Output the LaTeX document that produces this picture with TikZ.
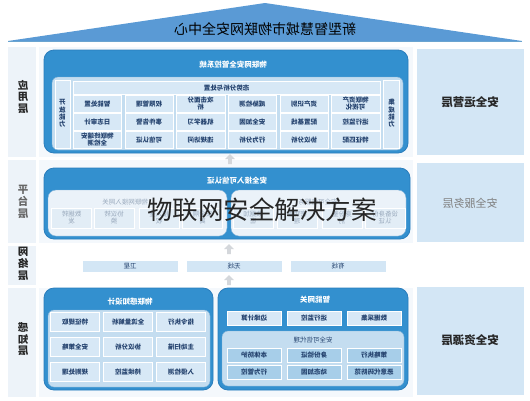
\documentclass[tikz,border=0pt]{standalone}
\usepackage{fontspec}
\usepackage{graphicx}
\newfontfamily\cjk{Noto Sans CJK SC}
\usetikzlibrary{shapes.arrows}
\definecolor{triC}{HTML}{5A9AD5}
\definecolor{boxC}{HTML}{3390CF}
\definecolor{boxB}{HTML}{2A7DBC}
\definecolor{innerC}{HTML}{C4DDF0}
\definecolor{cellC}{HTML}{D7E8F6}
\definecolor{cellT}{HTML}{24426E}
\definecolor{lpanel}{HTML}{EDF3F9}
\definecolor{mpanel}{HTML}{F4F8FC}
\definecolor{rpanel}{HTML}{D3E6F5}
\definecolor{arrC}{HTML}{D4D7DB}
\definecolor{fadeT}{HTML}{9AAABD}
\definecolor{fadeC}{HTML}{E2EDF6}
\newcommand\mir[1]{\reflectbox{#1}}
\newcommand\mtwo[2]{\reflectbox{\renewcommand{\arraystretch}{0.8}\begin{tabular}{@{}c@{}}#1\\#2\end{tabular}}}
\newcommand\mthree[3]{\reflectbox{\renewcommand{\arraystretch}{0.95}\begin{tabular}{@{}c@{}}#1\\#2\\#3\end{tabular}}}
\newcommand\mfour[4]{\reflectbox{\renewcommand{\arraystretch}{0.85}\begin{tabular}{@{}c@{}}#1\\#2\\#3\\#4\end{tabular}}}
\tikzset{
  bigbox/.style={fill=boxC, draw=boxB, line width=0.8pt, rounded corners=10pt},
  innerbox/.style={fill=innerC, draw=boxB!60, line width=0.4pt, rounded corners=6pt},
  cell/.style={draw=white, line width=0.5pt, fill=cellC, inner sep=0pt, text=cellT,
    font=\cjk\bfseries\fontsize{6.5}{7}\selectfont},
  fcell/.style={draw=white, line width=0.5pt, fill=fadeC, inner sep=0pt, text=fadeT,
    font=\cjk\fontsize{6.5}{7}\selectfont, minimum width=40pt, minimum height=20pt},
  ttl/.style={text=white, font=\cjk\bfseries\fontsize{7.5}{8}\selectfont, inner sep=0pt},
  sttl/.style={text=cellT, font=\cjk\fontsize{6.5}{7}\selectfont, inner sep=0pt},
  lab/.style={font=\cjk\bfseries\fontsize{10.5}{11}\selectfont, text=black!85, inner sep=0pt},
  rlab/.style={font=\cjk\bfseries\fontsize{11.5}{12}\selectfont, text=black!85, inner sep=0pt},
  netbar/.style={fill=rpanel, draw=white, inner sep=0pt, minimum width=96pt, minimum height=12pt,
    text=cellT, font=\cjk\fontsize{6.5}{7}\selectfont},
  uparr/.style={single arrow, shape border rotate=90, fill=arrC, draw=none,
    minimum height=10pt, minimum width=10pt, single arrow head extend=2.5pt, inner sep=1.2pt}
}
\begin{document}
\begin{tikzpicture}[x=1pt,y=-1pt]
\useasboundingbox (0,0) rectangle (530,400);
\fill[white] (0,0) rectangle (530,400);
% top triangle
\fill[triC] (8,41) -- (265,3) -- (522,41) -- cycle;
\draw[boxB!70, line width=0.5pt] (8,41) -- (522,41);
\node[font=\cjk\fontsize{14}{14}\selectfont, inner sep=0pt] (top) at (265,29) {\mir{新型智慧城市物联网安全中心}};
% layer panels
\fill[lpanel] (8,47) rectangle (36,157);
\fill[lpanel] (8,160) rectangle (36,243);
\fill[lpanel] (8,246) rectangle (36,285);
\fill[lpanel] (8,288) rectangle (36,397);
\fill[mpanel] (39,47) rectangle (413,157);
\fill[mpanel] (39,160) rectangle (413,243);
\fill[mpanel] (39,288) rectangle (413,397);
\fill[rpanel] (417,49) rectangle (524,155);
\fill[rpanel] (417,163) rectangle (524,242);
\fill[rpanel] (417,287) rectangle (524,395);
% left labels
\node[lab] (l1) at (23,98) {\mthree{应}{用}{层}};
\node[lab, text=black!60] (l2) at (23,203) {\mthree{平}{台}{层}};
\node[lab] (l3) at (23,265) {\mthree{网}{络}{层}};
\node[lab] (l4) at (23,340) {\mthree{感}{知}{层}};
% right labels
\node[rlab] (r1) at (470,102) {\mir{安全运营层}};
\node[rlab, font=\cjk\fontsize{11}{12}\selectfont, text=black!50] (r2) at (470,203) {\mir{安全服务层}};
\node[rlab] (r3) at (470,340) {\mir{安全资源层}};

% ===== application layer =====
\draw[bigbox] (44,50) rectangle (408,153);
\node[ttl] (appT) at (233,65) {\mir{物联网安全管控系统}};
\draw[innerbox] (52,77) rectangle (403,150);
\node[cell, minimum width=15pt, minimum height=68pt] (open) at (62.5,114) {\mfour{开}{放}{能}{力}};
\node[cell, minimum width=16pt, minimum height=68pt] (integ) at (391.5,114) {\mfour{集}{成}{能}{力}};
\node[cell, minimum width=307pt, minimum height=13pt] (head) at (226.5,88) {\mir{态势分析与处置}};
\foreach \c/\x in {1/97.3,2/149,3/200.7,4/252.3,5/304,6/355.7}{
  \foreach \r/\y in {1/104,2/122,3/140}{
    \coordinate (g-\c-\r) at (\x,\y);
  }
}
\tikzset{gc/.style={cell, minimum width=48.5pt, minimum height=17pt}}
\node[gc] (a11) at (g-1-1) {\mir{智能处置}};
\node[gc] (a12) at (g-1-2) {\mir{日志审计}};
\node[gc] (a13) at (g-1-3) {\mtwo{物联终端安}{全检测}};
\node[gc] (a21) at (g-2-1) {\mir{权限管理}};
\node[gc] (a22) at (g-2-2) {\mir{事件告警}};
\node[gc] (a23) at (g-2-3) {\mir{可信认证}};
\node[gc] (a31) at (g-3-1) {\mtwo{攻击面分}{析}};
\node[gc] (a32) at (g-3-2) {\mir{机器学习}};
\node[gc] (a33) at (g-3-3) {\mir{违规访问}};
\node[gc] (a41) at (g-4-1) {\mir{威胁检测}};
\node[gc] (a42) at (g-4-2) {\mir{安全加固}};
\node[gc] (a43) at (g-4-3) {\mir{行为分析}};
\node[gc] (a51) at (g-5-1) {\mir{资产识别}};
\node[gc] (a52) at (g-5-2) {\mir{配置基线}};
\node[gc] (a53) at (g-5-3) {\mir{协议分析}};
\node[gc] (a61) at (g-6-1) {\mtwo{物联资产}{可视化}};
\node[gc] (a62) at (g-6-2) {\mir{运行监控}};
\node[gc] (a63) at (g-6-3) {\mir{特征匹配}};

% arrows
\node[uparr] (ar1) at (230,160) {};
\node[uparr] (ar2) at (229,250) {};
\node[uparr] (ar3) at (229,281) {};

% ===== platform layer =====
\draw[bigbox] (44,168) rectangle (410,239);
\node[ttl] (platT) at (237,181) {\mir{安全接入可信认证}};
\draw[innerbox, fill=fadeC!70!white, rounded corners=8pt] (48,190) rectangle (227,236);
\draw[innerbox, fill=fadeC!70!white, rounded corners=8pt] (231,190) rectangle (406,236);
\node[sttl, text=fadeT] (pl) at (125,202) {\mir{物联网接入网关}};
\node[sttl, text=fadeT] (pr) at (318,202) {\mir{安全可信服务}};
\node[fcell] (p1) at (71.5,218) {\mtwo{数据转}{发}};
\node[fcell] (p2) at (114,218) {\mtwo{协议转}{换}};
\node[fcell] (p3) at (159,218) {\mtwo{接入鉴}{权}};
\node[fcell] (p4) at (202.5,218) {\mtwo{安全隔}{离}};
\node[fcell] (p5) at (253,218) {\mtwo{数据加}{密}};
\node[fcell] (p6) at (297,218) {\mtwo{密钥管}{理}};
\node[fcell] (p7) at (342,218) {\mtwo{身份鉴}{别}};
\node[fcell] (p8) at (385,218) {\mtwo{设备身份}{认证}};
% watermark
\node[font=\cjk\fontsize{25.5}{26}\selectfont, text=black!85, inner sep=0pt] (wm) at (262,210) {物联网安全解决方案};

% ===== network layer =====
\node[netbar] (sat) at (130,266) {\mir{卫星}};
\node[netbar] (wl) at (234,266) {\mir{无线}};
\node[netbar] (wd) at (338,266) {\mir{有线}};

% ===== perception layer =====
\draw[bigbox] (44,288) rectangle (213,390);
\node[ttl] (pcT) at (130,302) {\mir{物联感知设计}};
\draw[innerbox] (48,310) rectangle (210,387);
\tikzset{pc/.style={cell, minimum width=49pt, minimum height=19pt}}
\node[pc] (c11) at (75,322) {\mir{特征提取}};
\node[pc] (c21) at (128,322) {\mir{全流量解析}};
\node[pc] (c31) at (181,322) {\mir{指令执行}};
\node[pc] (c12) at (75,347) {\mir{安全策略}};
\node[pc] (c22) at (128,347) {\mir{协议分析}};
\node[pc] (c32) at (181,347) {\mir{主动扫描}};
\node[pc] (c13) at (75,372) {\mir{规则处理}};
\node[pc] (c23) at (128,372) {\mir{持续监控}};
\node[pc] (c33) at (181,372) {\mir{入侵检测}};

\draw[bigbox] (218,288) rectangle (408,390);
\node[ttl] (gwT) at (315,300) {\mir{智能网关}};
\tikzset{gw/.style={cell, minimum width=54pt, minimum height=14pt}}
\node[gw] (g1) at (254,318.5) {\mir{边缘计算}};
\node[gw] (g2) at (314,318.5) {\mir{运行监控}};
\node[gw] (g3) at (374,318.5) {\mir{数据采集}};
\draw[innerbox] (222,331) rectangle (404,386);
\node[sttl] (sub) at (313,340) {\mir{安全可信代理}};
\tikzset{sg/.style={cell, fill=innerC!80!boxC, minimum width=54pt, minimum height=14pt}}
\node[sg] (s1) at (254,355) {\mir{本体防护}};
\node[sg] (s2) at (314,355) {\mir{身份验证}};
\node[sg] (s3) at (374,355) {\mir{策略执行}};
\node[sg] (s4) at (254,372) {\mir{行为管控}};
\node[sg] (s5) at (314,372) {\mir{动态加固}};
\node[sg] (s6) at (374,372) {\mir{恶意代码防范}};
\end{tikzpicture}
\end{document}
